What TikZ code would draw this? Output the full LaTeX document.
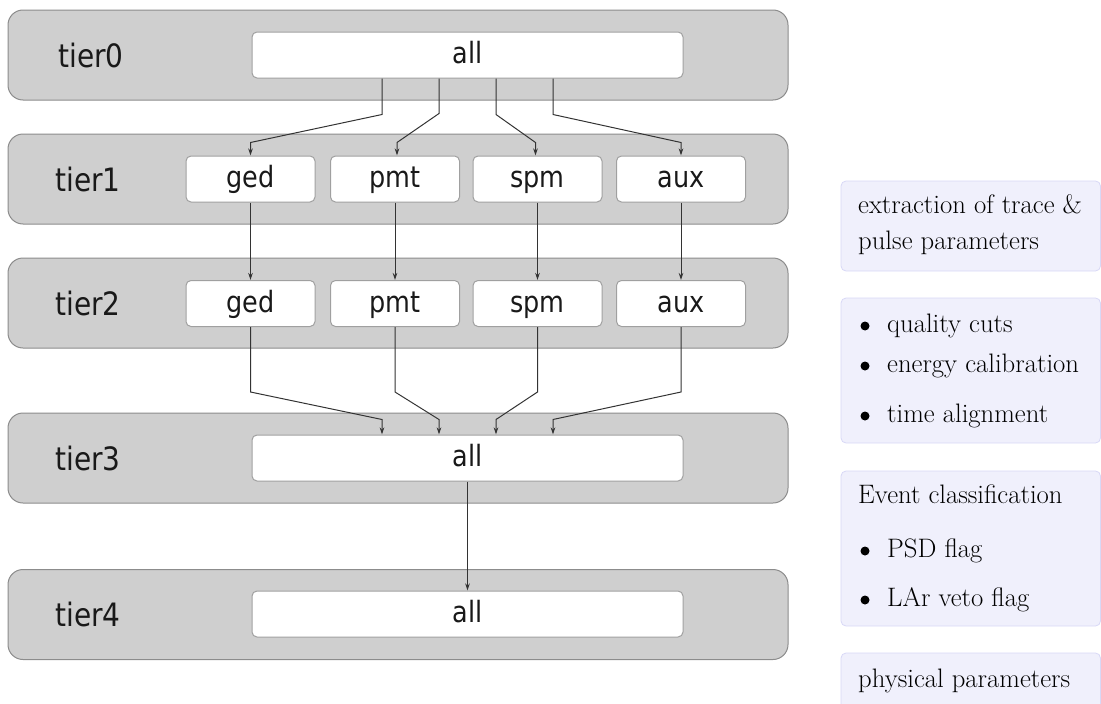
\documentclass[tikz,border=0pt]{standalone}
\usepackage{fontspec}
\usepackage{graphicx}
\newfontfamily\djv{DejaVu Sans}
\newcommand\vstretch[1]{\scalebox{1}[1.15]{#1}}
\usetikzlibrary{calc,arrows.meta}
\definecolor{tierfill}{HTML}{CFCFCF}
\definecolor{tierdraw}{HTML}{8C8C8C}
\definecolor{boxdraw}{HTML}{A0A0A0}
\definecolor{arrcol}{HTML}{333333}
\definecolor{notefill}{HTML}{F0F0FC}
\definecolor{notedraw}{HTML}{D8D8F6}
\tikzset{
  tier/.style={draw=tierdraw, fill=tierfill, line width=1pt, rounded corners=15pt,
    minimum width=780pt, minimum height=90pt, inner sep=0pt},
  tierlabel/.style={font=\djv\fontsize{28}{32}\selectfont, text=black!90, inner sep=0pt,
    text height=24pt, text depth=0pt},
  wbox/.style={draw=boxdraw, fill=white, line width=1pt, rounded corners=5pt,
    minimum height=46pt, inner sep=0pt, font=\djv\fontsize{25.5}{30}\selectfont, text=black!90,
    text height=17pt, text depth=0pt},
  allbox/.style={wbox, minimum width=431pt},
  chbox/.style={wbox, minimum width=129pt},
  arr/.style={draw=arrcol, line width=1pt, -{Stealth[length=7pt,width=4.5pt]}},
  note/.style={draw=notedraw, fill=notefill, line width=0.8pt, rounded corners=5pt},
  notetext/.style={anchor=base west, inner sep=0pt, font=\fontsize{26.7}{30}\selectfont},
  bul/.style={circle, fill=black, inner sep=0pt, minimum size=9pt}
}
\begin{document}
\begin{tikzpicture}[x=1pt,y=1pt]
\useasboundingbox (0,0) rectangle (1101,-704);
% tiers
\node[tier] (t0) at (398,-55) {};
\node[tier] (t1) at (398,-179) {};
\node[tier] (t2) at (398,-303) {};
\node[tier] (t3) at (398,-458) {};
\node[tier] (t4) at (398,-614.5) {};
\node[tierlabel] (l0) at (91,-55) {\vstretch{tier0}};
\node[tierlabel] (l1) at (88,-179) {\vstretch{tier1}};
\node[tierlabel] (l2) at (88,-303) {\vstretch{tier2}};
\node[tierlabel] (l3) at (88,-458) {\vstretch{tier3}};
\node[tierlabel] (l4) at (88,-614.5) {\vstretch{tier4}};
% boxes
\node[allbox] (all0) at (467.5,-55) {\vstretch{all}};
\node[chbox] (ged1) at (250.5,-179) {\vstretch{ged}};
\node[chbox] (pmt1) at (395,-179) {\vstretch{pmt}};
\node[chbox] (spm1) at (537.5,-179) {\vstretch{spm}};
\node[chbox] (aux1) at (681,-179) {\vstretch{aux}};
\node[chbox] (ged2) at (250.5,-303.5) {\vstretch{ged}};
\node[chbox] (pmt2) at (395,-303.5) {\vstretch{pmt}};
\node[chbox] (spm2) at (537.5,-303.5) {\vstretch{spm}};
\node[chbox] (aux2) at (681,-303.5) {\vstretch{aux}};
\node[allbox] (all3) at (467.5,-458) {\vstretch{all}};
\node[allbox] (all4) at (467.5,-614) {\vstretch{all}};
% tier0 -> tier1
\draw[arr] ($(all0.south)+(-85.5,0)$) -- ++(0,-36) -- ($(ged1.north)+(0,13)$) -- (ged1.north);
\draw[arr] ($(all0.south)+(-28.5,0)$) -- ++(0,-35) -- ($(pmt1.north)+(2,13)$) -- ($(pmt1.north)+(2,0)$);
\draw[arr] ($(all0.south)+(28.5,0)$) -- ++(0,-36) -- ($(spm1.north)+(-2,13)$) -- ($(spm1.north)+(-2,0)$);
\draw[arr] ($(all0.south)+(85.5,0)$) -- ++(0,-36) -- ($(aux1.north)+(0,13)$) -- (aux1.north);
% tier1 -> tier2
\draw[arr] (ged1.south) -- (ged2.north);
\draw[arr] (pmt1.south) -- (pmt2.north);
\draw[arr] (spm1.south) -- (spm2.north);
\draw[arr] (aux1.south) -- (aux2.north);
% tier2 -> tier3
\draw[arr] (ged2.south) -- ++(0,-65) -- ($(all3.north)+(-85.5,15)$) -- ($(all3.north)+(-85.5,0)$);
\draw[arr] (pmt2.south) -- ++(0,-65) -- ($(all3.north)+(-28.5,15)$) -- ($(all3.north)+(-28.5,0)$);
\draw[arr] (spm2.south) -- ++(0,-65) -- ($(all3.north)+(28.5,15)$) -- ($(all3.north)+(28.5,0)$);
\draw[arr] (aux2.south) -- ++(0,-65) -- ($(all3.north)+(85.5,15)$) -- ($(all3.north)+(85.5,0)$);
% tier3 -> tier4
\draw[arr] (all3.south) -- (all4.north);
% notes
\draw[note] (841,-181) rectangle (1100.5,-271);
\draw[note] (841,-298) rectangle (1100.5,-443);
\draw[note] (841,-471) rectangle (1100.5,-626);
\draw[note] (841,-653) rectangle (1100.5,-720);
\node[notetext] (n1a) at (858,-213) {extraction of trace \&};
\node[notetext] (n1b) at (858,-249) {pulse parameters};
\node[bul] (b1) at (865,-326) {};
\node[notetext] (n2a) at (887,-332) {quality cuts};
\node[bul] (b2) at (865,-366) {};
\node[notetext] (n2b) at (887,-372) {energy calibration};
\node[bul] (b3) at (865,-416) {};
\node[notetext] (n2c) at (887,-422) {time alignment};
\node[notetext] (n3a) at (858,-503) {Event classification};
\node[bul] (b4) at (865,-551) {};
\node[notetext] (n3b) at (887,-557) {PSD flag};
\node[bul] (b5) at (865,-600) {};
\node[notetext] (n3c) at (887,-606) {LAr veto flag};
\node[notetext] (n4a) at (858,-687) {physical parameters};
\end{tikzpicture}
\end{document}
